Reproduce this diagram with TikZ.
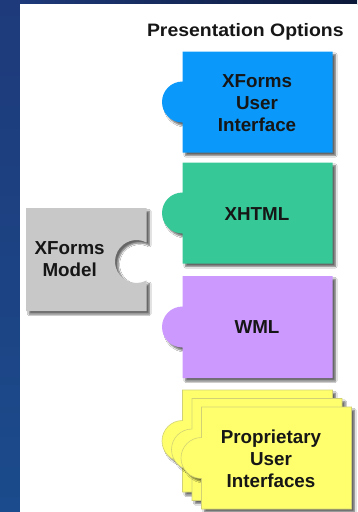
\documentclass[tikz,border=0pt]{standalone}
\usepackage{fontspec}
\usepackage{graphicx}
\setmainfont{Liberation Sans}
\usetikzlibrary{shadows.blur}

\definecolor{navytop}{HTML}{1E3A7A}
\definecolor{navymid}{HTML}{2A5CA6}
\definecolor{navybot}{HTML}{1B4B8C}
\definecolor{navydark}{HTML}{0C1838}
\definecolor{uiblue}{HTML}{0A99FA}
\definecolor{xhtmlgreen}{HTML}{36C896}
\definecolor{wmlpurple}{HTML}{CC99FF}
\definecolor{propyellow}{HTML}{FFFF6E}
\definecolor{modelgray}{HTML}{C8C8C8}
\definecolor{inktext}{HTML}{161616}

\tikzset{
  piece/.style={blur shadow={shadow xshift=3pt, shadow yshift=-3pt,
      shadow opacity=60, shadow blur radius=1.6pt, shadow blur steps=6}},
  sheet/.style={piece, draw=propyellow!65!gray, line width=0.6pt},
  boxtext/.style={font=\fontsize{18.8}{22}\selectfont\bfseries,
      align=center, inner sep=0pt, text=inktext},
  headtext/.style={font=\fontsize{18}{22}\selectfont\bfseries,
      inner sep=0pt, text=inktext, anchor=base}
}

% a puzzle piece with a round tab on its left side:
% left, top, right, bottom, fill colour
\newcommand\tabpiece[5]{%
  \path[piece, fill=#5] (#1,#2) -- (#3,#2) -- (#3,#4) -- (#1,#4)
    -- (#1,{(#2+#4)/2+20.5}) arc[start angle=90, end angle=270, radius=20.5]
    -- cycle;}
\newcommand\tabsheet[5]{%
  \path[sheet, fill=#5] (#1,#2) -- (#3,#2) -- (#3,#4) -- (#1,#4)
    -- (#1,{(#2+#4)/2+20.5}) arc[start angle=90, end angle=270, radius=20.5]
    -- cycle;}

\begin{document}
\begin{tikzpicture}[x=1pt, y=-1pt]
  \useasboundingbox (0,0) rectangle (357,512);

  % slide frame
  \shade[top color=navytop, middle color=navymid, bottom color=navybot]
    (0,0) rectangle (20,512);
  \shade[left color=navytop, right color=navydark] (20,0) rectangle (357,4);
  \fill[white] (20,4) rectangle (357,512);

  % heading
  \node[headtext] (title) at (245.3,36) {\scalebox{1.08}[1]{Presentation Options}};

  % presentation pieces
  \tabpiece{182.5}{51.5}{332.5}{152.5}{uiblue}
  \tabpiece{182.5}{162.5}{332.5}{263.5}{xhtmlgreen}
  \tabpiece{182.5}{276}{332.5}{378}{wmlpurple}

  % stack of proprietary interfaces
  \tabsheet{182.5}{390}{332.5}{492}{propyellow}
  \tabsheet{192}{398.5}{342}{500.5}{propyellow}
  \tabsheet{201.5}{407}{351.5}{509}{propyellow}

  % the model piece with its socket on the right
  \path[piece, fill=modelgray] (26,208) -- (146.5,208) -- (146.5,242.47)
    arc[start angle=-62.3, end angle=-297.7, radius=21.5]
    -- (146.5,311) -- (26,311) -- cycle;

  % labels
  \node[boxtext] (ui)    at (257,103.3) {XForms\\User\\Interface};
  \node[boxtext] (xhtml) at (257,214)   {XHTML};
  \node[boxtext] (wml)   at (257,327)   {WML};
  \node[boxtext] (prop)  at (271,459.2) {Proprietary\\User\\Interfaces};
  \node[boxtext] (model) at (69.7,259.2) {XForms\\Model};
\end{tikzpicture}
\end{document}
